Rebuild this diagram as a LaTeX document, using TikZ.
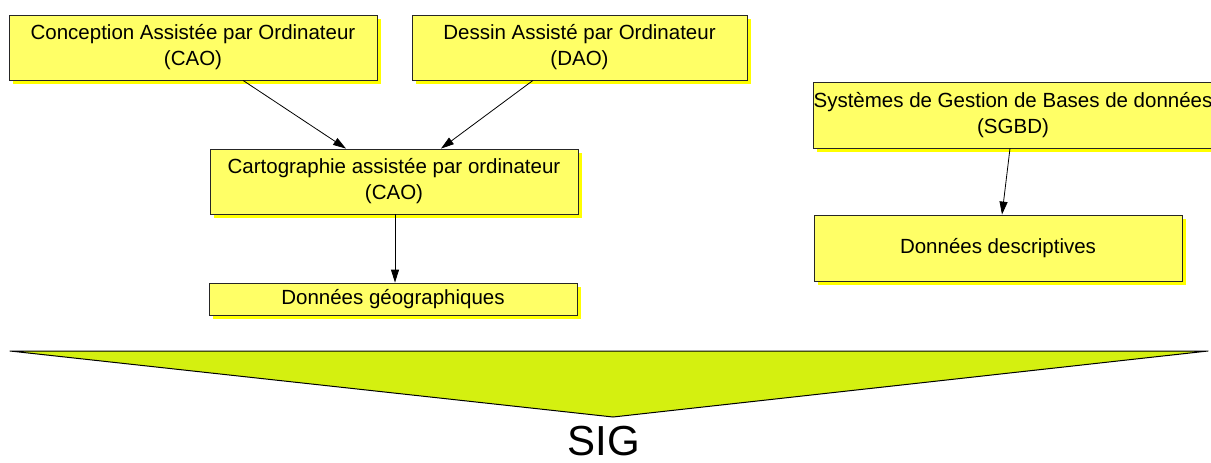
\documentclass[tikz,border=0pt]{standalone}
\usepackage{fontspec}
\setmainfont{Liberation Sans}
\usetikzlibrary{shadows,arrows.meta,calc}
\definecolor{boxfill}{RGB}{255,255,102}
\definecolor{boxshadow}{RGB}{255,255,0}
\definecolor{trifill}{RGB}{212,240,16}
\tikzset{
  box/.style={draw=black!85, line width=0.8pt, fill=boxfill, rectangle, inner sep=0pt,
    align=center, font=\fontsize{20.5}{26}\selectfont,
    drop shadow={shadow xshift=3.5pt, shadow yshift=-3.5pt, fill=boxshadow, opacity=1}},
  link/.style={draw=black, line width=0.8pt, -{Triangle[length=13pt,width=8pt]}}
}
\begin{document}
\begin{tikzpicture}[x=1pt,y=-1pt]
\clip (0,0) rectangle (1211,463);
\fill[white] (0,0) rectangle (1211,463);
\node[box, minimum width=368pt, minimum height=65pt] (b1) at (193,47.5) {Conception Assistée par Ordinateur\\(CAO)};
\node[box, minimum width=335pt, minimum height=65pt] (b2) at (579.5,47.5) {Dessin Assisté par Ordinateur\\(DAO)};
\node[box, minimum width=368pt, minimum height=65pt] (b3) at (394,181.5) {Cartographie assistée par ordinateur\\(CAO)};
\node[box, minimum width=368pt, minimum height=32pt] (b4) at (393,299) {Données géographiques};
\node[box, minimum width=400pt, minimum height=66pt] (b5) at (1013,115) {Systèmes de Gestion de Bases de données\\(SGBD)};
\node[box, minimum width=368pt, minimum height=66pt] (b6) at (998,248) {Données descriptives};
\draw[link] ([xshift=50pt]b1.south) -- ([xshift=-48pt]b3.north);
\draw[link] ([xshift=-46.5pt]b2.south) -- ([xshift=47pt]b3.north);
\draw[link] ([xshift=1pt]b3.south) -- ([xshift=2pt]b4.north);
\draw[link] ([xshift=-3pt]b5.south) -- ([xshift=4pt]b6.north);
\coordinate (tl) at (10,351);
\coordinate (tr) at (1208,351);
\coordinate (tip) at (613,417);
\draw[fill=trifill, draw=black, line width=1pt, line join=round] (tl) -- (tr) -- (tip) -- cycle;
\node[font=\fontsize{42}{48}\selectfont, inner sep=0pt] (sig) at (604,441) {SIG};
\end{tikzpicture}
\end{document}
